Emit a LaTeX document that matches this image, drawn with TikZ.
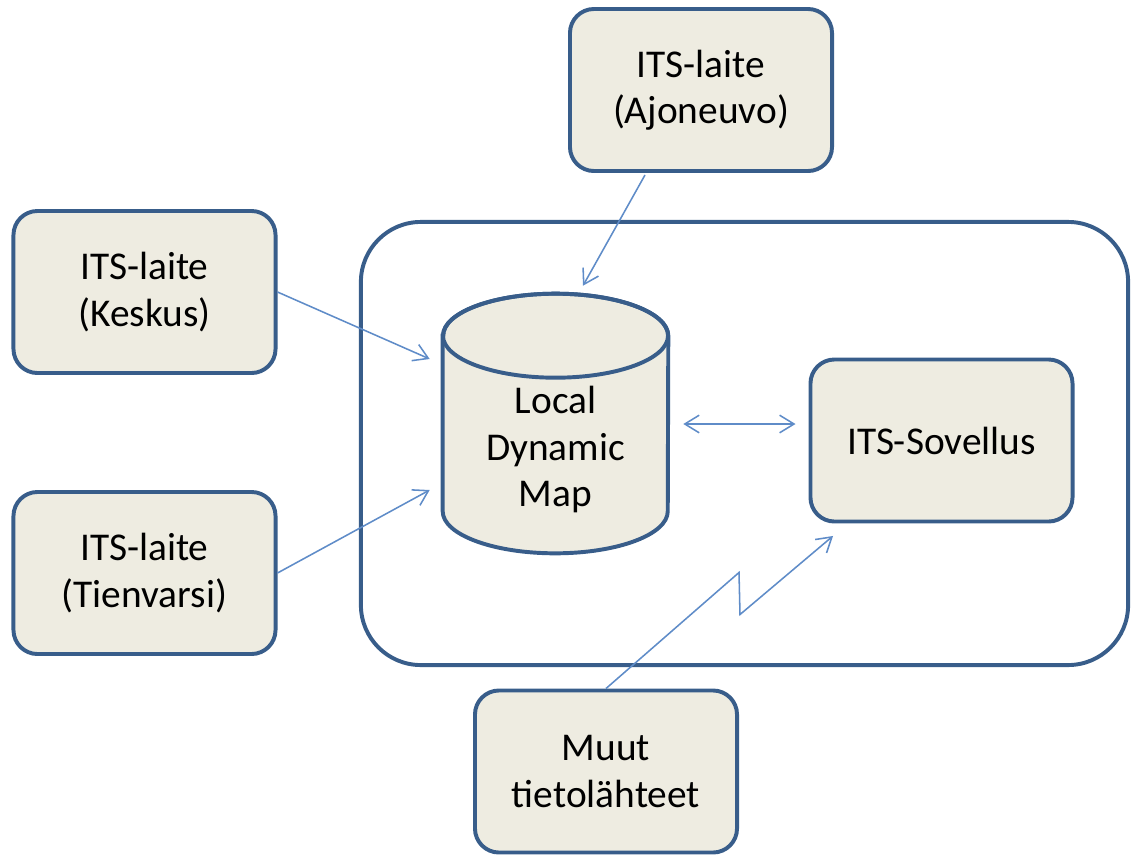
\documentclass[tikz,border=0pt]{standalone}
\usepackage{fontspec}
\setmainfont{Carlito}
\usepackage{tikz}
\usetikzlibrary{arrows.meta,calc}
\definecolor{its-blue}{RGB}{56,93,138}
\definecolor{its-fill}{RGB}{238,236,225}
\definecolor{link-blue}{RGB}{95,140,200}

\begin{document}
\begin{tikzpicture}[x=0.025cm, y=-0.025cm,
    itsbox/.style={draw=its-blue, fill=its-fill, line width=2.8pt, rounded corners=0.6cm,
      minimum width=6.55cm, minimum height=4.05cm, align=center,
      font=\fontsize{28}{33}\selectfont},
    link/.style={draw=link-blue, line width=1.1pt,
      -{Straight Barb[length=3.6mm, width=4.4mm]}}]
  \useasboundingbox (0,0) rectangle (1133,856);

  % station frame
  \node[draw=its-blue, line width=2.8pt, rounded corners=1.5cm,
        minimum width=19.175cm, minimum height=11.075cm] (station) at (744.5,443.5) {};

  % devices and sources
  \node[itsbox] (ajon) at (701,90) {ITS-laite\\(Ajoneuvo)};
  \node[itsbox] (kesk) at (144.5,292) {ITS-laite\\(Keskus)};
  \node[itsbox] (tien) at (144.5,573) {ITS-laite\\(Tienvarsi)};
  \node[itsbox] (sov) at (941.5,440.5) {ITS-Sovellus};
  \node[itsbox] (muut) at (606,771.5) {Muut\\tietolähteet};

  % local dynamic map (cylinder)
  \node[minimum width=5.625cm, minimum height=6.475cm, inner sep=0pt] (ldm) at (555.5,423.5) {};
  \filldraw[draw=its-blue, fill=its-fill, line width=2.8pt]
    ($(ldm.north west)+(0,42)$) -- ($(ldm.south west)+(0,-42)$)
    arc[start angle=180, end angle=360, x radius=2.8125cm, y radius=1.05cm]
    -- ($(ldm.north east)+(0,42)$)
    arc[start angle=0, end angle=180, x radius=2.8125cm, y radius=1.05cm] -- cycle;
  \draw[its-blue, line width=2.8pt] ($(ldm.north)+(0,42)$) ellipse[x radius=2.8125cm, y radius=1.05cm];
  \node[align=center, font=\fontsize{28}{33}\selectfont] (ldmtext) at ($(ldm.center)+(0,26)$)
    {Local\\Dynamic\\Map};

  % links
  \draw[link] ($(ajon.south)+(-56,2)$) -- ($(ldm.north)+(27.5,-8)$);
  \draw[link] (kesk.east) -- ($(ldm.west)+(-13,-64.5)$);
  \draw[link] (tien.east) -- ($(ldm.west)+(-13,66.5)$);
  \draw[link, {Straight Barb[length=3.6mm, width=4.4mm]}-{Straight Barb[length=3.6mm, width=4.4mm]}]
    ($(ldm.east)+(15,0.5)$) -- ($(sov.west)+(-13,-16.5)$);
  \draw[link] (muut.north) -- ++(133,-116) -- ++(1,42) -- ($(sov.south)+(-108.5,12.5)$);
\end{tikzpicture}
\end{document}
